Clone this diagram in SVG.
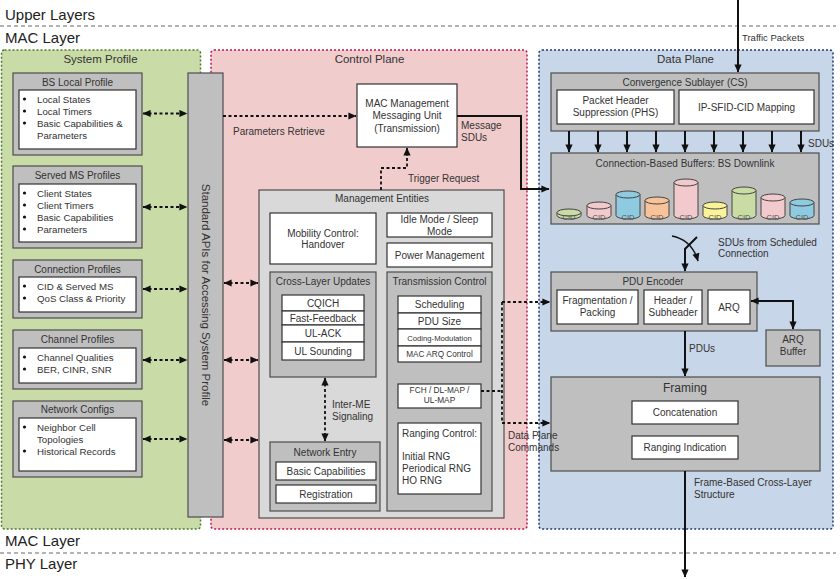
<svg xmlns="http://www.w3.org/2000/svg" width="840" height="579" viewBox="0 0 840 579">
<defs>
<marker id="ah" viewBox="0 0 10 10" refX="9.5" refY="5" markerWidth="9" markerHeight="8" markerUnits="userSpaceOnUse" orient="auto-start-reverse">
<path d="M0,0.5 L10,5 L0,9.5 z" fill="#111"/>
</marker>
<style>
text{font-family:"Liberation Sans",Arial,sans-serif;fill:#333}
.lay{font-size:15px;fill:#222}
.ct{font-size:11.5px;text-anchor:middle}
.bt{font-size:10px;text-anchor:middle}
.b{font-size:9.7px}
.c{font-size:10px;text-anchor:middle}
.s{font-size:10px}
.grey{fill:#bfbfbf;stroke:#4d4d4d;stroke-width:1.2}
.lgrey{fill:#d9d9d9;stroke:#4d4d4d;stroke-width:1.2}
.wh{fill:#fff;stroke:#333;stroke-width:1.2}
.dash{fill:none;stroke:#111;stroke-width:1.8;stroke-dasharray:3,2.5}
.solid{fill:none;stroke:#111;stroke-width:2}
.layer{stroke:#9a9a9a;stroke-width:1.5;stroke-dasharray:4,3}
.cyl{stroke:#444;stroke-width:1}
.cid{font-size:7.5px;text-anchor:middle;fill:#555}
</style>
</defs>

<g id="layers">
<line class="layer" x1="0" y1="26" x2="836" y2="26"/>
<line class="layer" x1="0" y1="553" x2="836" y2="553"/>
<text class="lay" x="5" y="19.5">Upper Layers</text>
<text class="lay" x="5" y="42.5">MAC Layer</text>
<text class="lay" x="5" y="546">MAC Layer</text>
<text class="lay" x="5" y="569">PHY Layer</text>
</g>

<g id="system-profile">
<rect x="1.5" y="50" width="199" height="479" rx="3" fill="#c9dca8" stroke="#4f7a28" stroke-width="1.5" stroke-dasharray="2,2"/>
<text class="ct" x="100.5" y="63">System Profile</text>
</g>
<g id="control-plane">
<rect x="211" y="50" width="316" height="479" rx="3" fill="#f1cccc" stroke="#c0174d" stroke-width="1.5" stroke-dasharray="2,2"/>
<text class="ct" x="369.5" y="63">Control Plane</text>
</g>
<g id="data-plane">
<rect x="539" y="50" width="294" height="479" rx="3" fill="#c7d6e8" stroke="#1f3a78" stroke-width="1.5" stroke-dasharray="2,2"/>
<text class="ct" x="685.5" y="63">Data Plane</text>
</g>

<g id="bs-local-profile">
<rect class="grey" x="13" y="73" width="129" height="82"/>
<text class="bt" x="77.5" y="85.5">BS Local Profile</text>
<rect class="wh" x="19" y="90" width="117" height="59"/>
<circle cx="24.5" cy="99" r="1.6" fill="#111"/><text class="b" x="37" y="102.5">Local States</text>
<circle cx="24.5" cy="111" r="1.6" fill="#111"/><text class="b" x="37" y="114.5">Local Timers</text>
<circle cx="24.5" cy="123" r="1.6" fill="#111"/><text class="b" x="37" y="126.5">Basic Capabilities &amp;</text>
<text class="b" x="37" y="138.5">Parameters</text>
</g>

<g id="served-ms-profiles">
<rect class="grey" x="13" y="166" width="129" height="82"/>
<text class="bt" x="77.5" y="178.5">Served MS Profiles</text>
<rect class="wh" x="19" y="184" width="117" height="58"/>
<circle cx="24.5" cy="193" r="1.6" fill="#111"/><text class="b" x="37" y="196.5">Client States</text>
<circle cx="24.5" cy="205" r="1.6" fill="#111"/><text class="b" x="37" y="208.5">Client Timers</text>
<circle cx="24.5" cy="217" r="1.6" fill="#111"/><text class="b" x="37" y="220.5">Basic Capabilities</text>
<circle cx="24.5" cy="229" r="1.6" fill="#111"/><text class="b" x="37" y="232.5">Parameters</text>
</g>

<g id="connection-profiles">
<rect class="grey" x="13" y="260" width="129" height="58"/>
<text class="bt" x="77.5" y="272.5">Connection Profiles</text>
<rect class="wh" x="19" y="277" width="117" height="35"/>
<circle cx="24.5" cy="286" r="1.6" fill="#111"/><text class="b" x="37" y="289.5">CID &amp; Served MS</text>
<circle cx="24.5" cy="298" r="1.6" fill="#111"/><text class="b" x="37" y="301.5">QoS Class &amp; Priority</text>
</g>

<g id="channel-profiles">
<rect class="grey" x="13" y="330" width="129" height="59"/>
<text class="bt" x="77.5" y="342.5">Channel Profiles</text>
<rect class="wh" x="19" y="348" width="117" height="35"/>
<circle cx="24.5" cy="357" r="1.6" fill="#111"/><text class="b" x="37" y="360.5">Channel Qualities</text>
<circle cx="24.5" cy="369" r="1.6" fill="#111"/><text class="b" x="37" y="372.5">BER, CINR, SNR</text>
</g>

<g id="network-configs">
<rect class="grey" x="13" y="401" width="129" height="76"/>
<text class="bt" x="77.5" y="412.5">Network Configs</text>
<rect class="wh" x="19" y="418" width="117" height="53"/>
<circle cx="24.5" cy="427" r="1.6" fill="#111"/><text class="b" x="37" y="430.5">Neighbor Cell</text>
<text class="b" x="37" y="442.5">Topologies</text>
<circle cx="24.5" cy="451" r="1.6" fill="#111"/><text class="b" x="37" y="454.5">Historical Records</text>
</g>

<g id="standard-apis">
<rect class="grey" x="188" y="73" width="35" height="444"/>
<text transform="translate(205.5,295) rotate(90)" x="0" y="4" style="font-size:11.5px;text-anchor:middle">Standard APIs for Accessing System Profile</text>
</g>

<g id="mac-mgmt-unit">
<rect class="wh" x="357" y="84" width="100" height="63"/>
<text class="c" x="407" y="106.5">MAC Management</text>
<text class="c" x="407" y="119">Messaging Unit</text>
<text class="c" x="407" y="131.5">(Transmission)</text>
</g>

<g id="management-entities">
<rect class="lgrey" x="259" y="190" width="245" height="328"/>
<text class="c" x="382" y="201.5">Management Entities</text>
</g>

<g id="mobility-control">
<rect class="wh" x="270" y="213" width="106" height="51"/>
<text class="c" x="323" y="236.5">Mobility Control:</text>
<text class="c" x="323" y="248">Handover</text>
</g>
<g id="idle-mode">
<rect class="wh" x="387" y="213" width="105" height="24"/>
<text class="c" x="439.5" y="222.5">Idle Mode / Sleep</text>
<text class="c" x="439.5" y="234.5">Mode</text>
</g>
<g id="power-management">
<rect class="wh" x="387" y="243" width="105" height="24"/>
<text class="c" x="439.5" y="258.5">Power Management</text>
</g>

<g id="cross-layer-updates">
<rect class="grey" x="270" y="272" width="106" height="105"/>
<text class="c" x="323" y="284.5">Cross-Layer Updates</text>
<rect class="wh" x="282" y="295" width="82" height="16"/>
<text class="c" x="323" y="306.5">CQICH</text>
<rect class="wh" x="282" y="311" width="82" height="14"/>
<text class="c" x="323" y="321.5">Fast-Feedback</text>
<rect class="wh" x="282" y="325" width="82" height="17"/>
<text class="c" x="323" y="337">UL-ACK</text>
<rect class="wh" x="282" y="342" width="82" height="18"/>
<text class="c" x="323" y="354.5">UL Sounding</text>
</g>

<g id="transmission-control">
<rect class="grey" x="387" y="272" width="105" height="239"/>
<text class="c" x="439.5" y="284.5">Transmission Control</text>
<rect class="wh" x="398" y="296" width="83" height="17"/>
<text class="c" x="439.5" y="308">Scheduling</text>
<rect class="wh" x="398" y="313" width="83" height="16"/>
<text class="c" x="439.5" y="324.5">PDU Size</text>
<rect class="wh" x="398" y="329" width="83" height="17"/>
<text x="439.5" y="340.5" style="font-size:7.7px;text-anchor:middle">Coding-Modulation</text>
<rect class="wh" x="398" y="346" width="83" height="16"/>
<text x="439.5" y="357" style="font-size:8.2px;text-anchor:middle">MAC ARQ Control</text>
</g>
<g id="fch-map">
<rect class="wh" x="398" y="384" width="83" height="24"/>
<text x="439.5" y="393" style="font-size:8.3px;text-anchor:middle">FCH / DL-MAP /</text>
<text x="439.5" y="403" style="font-size:8.3px;text-anchor:middle">UL-MAP</text>
</g>
<g id="ranging-control">
<rect class="wh" x="398" y="423" width="83" height="71"/>
<text class="s" x="402" y="437">Ranging Control:</text>
<text class="s" x="402" y="460">Initial RNG</text>
<text class="s" x="402" y="472">Periodical RNG</text>
<text class="s" x="402" y="483.5">HO RNG</text>
</g>

<g id="network-entry">
<rect class="grey" x="270" y="442" width="110" height="69"/>
<text class="c" x="325" y="455.5">Network Entry</text>
<rect class="wh" x="276" y="462" width="100" height="18"/>
<text class="c" x="326" y="474.5">Basic Capabilities</text>
<rect class="wh" x="276" y="485" width="100" height="18"/>
<text class="c" x="326" y="497.5">Registration</text>
</g>

<g id="convergence-sublayer">
<rect class="grey" x="551" y="73" width="268" height="58"/>
<text class="c" x="685" y="85.5">Convergence Sublayer (CS)</text>
<rect class="wh" x="557" y="90" width="117" height="34"/>
<text class="c" x="615.5" y="104">Packet Header</text>
<text class="c" x="615.5" y="116">Suppression (PHS)</text>
<rect class="wh" x="679" y="90" width="135" height="34"/>
<text class="c" x="746.5" y="110.5">IP-SFID-CID Mapping</text>
</g>

<g id="connection-buffers">
<rect class="grey" x="551" y="153" width="268" height="71"/>
<text class="c" x="685" y="166.5">Connection-Based Buffers: BS Downlink</text>
<g class="cyl">
<path d="M557,212.5 V215.5 A12,3.5 0 0 0 581,215.5 V212.5 Z" fill="#c8dca4"/><ellipse cx="569" cy="212.5" rx="12" ry="3.5" fill="#c8dca4"/>
<path d="M587,205.5 V215.5 A12,3.5 0 0 0 611,215.5 V205.5 Z" fill="#f2c9cc"/><ellipse cx="599" cy="205.5" rx="12" ry="3.5" fill="#f2c9cc"/>
<path d="M616,194.5 V215.5 A12,3.5 0 0 0 640,215.5 V194.5 Z" fill="#8fcbe0"/><ellipse cx="628" cy="194.5" rx="12" ry="3.5" fill="#8fcbe0"/>
<path d="M645,200.5 V215.5 A12,3.5 0 0 0 669,215.5 V200.5 Z" fill="#f8c39b"/><ellipse cx="657" cy="200.5" rx="12" ry="3.5" fill="#f8c39b"/>
<path d="M674,182.5 V215.5 A12,3.5 0 0 0 698,215.5 V182.5 Z" fill="#f2c9cc"/><ellipse cx="686" cy="182.5" rx="12" ry="3.5" fill="#f2c9cc"/>
<path d="M703,205.5 V215.5 A12,3.5 0 0 0 727,215.5 V205.5 Z" fill="#fbf39a"/><ellipse cx="715" cy="205.5" rx="12" ry="3.5" fill="#fbf39a"/>
<path d="M732,190.5 V215.5 A12,3.5 0 0 0 756,215.5 V190.5 Z" fill="#c8dca4"/><ellipse cx="744" cy="190.5" rx="12" ry="3.5" fill="#c8dca4"/>
<path d="M761,197.5 V215.5 A12,3.5 0 0 0 785,215.5 V197.5 Z" fill="#f2c9cc"/><ellipse cx="773" cy="197.5" rx="12" ry="3.5" fill="#f2c9cc"/>
<path d="M790,202.5 V215.5 A12,3.5 0 0 0 814,215.5 V202.5 Z" fill="#8fcbe0"/><ellipse cx="802" cy="202.5" rx="12" ry="3.5" fill="#8fcbe0"/>
</g>
<text class="cid" x="569" y="220">CID</text>
<text class="cid" x="599" y="220">CID</text>
<text class="cid" x="628" y="220">CID</text>
<text class="cid" x="657" y="220">CID</text>
<text class="cid" x="686" y="220">CID</text>
<text class="cid" x="715" y="220">CID</text>
<text class="cid" x="744" y="220">CID</text>
<text class="cid" x="773" y="220">CID</text>
<text class="cid" x="802" y="220">CID</text>
</g>

<g id="pdu-encoder">
<rect class="grey" x="551" y="272" width="206" height="59"/>
<text class="c" x="653" y="284.5">PDU Encoder</text>
<rect class="wh" x="557" y="290" width="81" height="34"/>
<text class="c" x="597.5" y="304">Fragmentation /</text>
<text class="c" x="597.5" y="316">Packing</text>
<rect class="wh" x="644" y="290" width="58" height="34"/>
<text class="c" x="673" y="304">Header /</text>
<text class="c" x="673" y="316">Subheader</text>
<rect class="wh" x="708" y="290" width="42" height="34"/>
<text class="c" x="729" y="310.5">ARQ</text>
</g>

<g id="arq-buffer">
<rect class="grey" x="766" y="330" width="54" height="36"/>
<text class="c" x="793" y="343">ARQ</text>
<text class="c" x="793" y="355">Buffer</text>
</g>

<g id="framing">
<rect class="grey" x="551" y="377" width="269" height="94"/>
<text x="685" y="391.5" style="font-size:12px;text-anchor:middle">Framing</text>
<rect class="wh" x="632" y="401" width="106" height="23"/>
<text class="c" x="685" y="416">Concatenation</text>
<rect class="wh" x="632" y="436" width="106" height="23"/>
<text class="c" x="685" y="451">Ranging Indication</text>
</g>

<g id="connectors">
<path class="dash" d="M143,113.5 H187" marker-start="url(#ah)" marker-end="url(#ah)"/>
<path class="dash" d="M143,207 H187" marker-start="url(#ah)" marker-end="url(#ah)"/>
<path class="dash" d="M143,289 H187" marker-start="url(#ah)" marker-end="url(#ah)"/>
<path class="dash" d="M143,360 H187" marker-start="url(#ah)" marker-end="url(#ah)"/>
<path class="dash" d="M143,439 H187" marker-start="url(#ah)" marker-end="url(#ah)"/>
<path class="dash" d="M224,283 H258" marker-start="url(#ah)" marker-end="url(#ah)"/>
<path class="dash" d="M224,360 H258" marker-start="url(#ah)" marker-end="url(#ah)"/>
<path class="dash" d="M224,440 H258" marker-start="url(#ah)" marker-end="url(#ah)"/>
<path class="dash" d="M223,116 H356" marker-end="url(#ah)"/>
<text class="s" x="233" y="134.5">Parameters Retrieve</text>
<path class="dash" d="M381,190 V168 H407 V148" marker-end="url(#ah)"/>
<text class="s" x="408" y="181.5">Trigger Request</text>
<path class="solid" d="M457,116 H521 V189 H549" marker-end="url(#ah)"/>
<text class="s" x="461" y="128.5">Message</text>
<text class="s" x="461" y="140.5">SDUs</text>
<path class="dash" d="M325,378 V441" marker-start="url(#ah)" marker-end="url(#ah)"/>
<text class="s" x="332" y="407.5">Inter-ME</text>
<text class="s" x="332" y="419.5">Signaling</text>
<path class="dash" d="M481,391 H502"/>
<path class="dash" d="M502,302 V423"/>
<path class="dash" d="M502,302 H550" marker-end="url(#ah)"/>
<path class="dash" d="M502,423 H550" marker-end="url(#ah)"/>
<text class="s" x="508" y="439">Data Plane</text>
<text class="s" x="508" y="450.5">Commands</text>
<path class="solid" d="M738,0 V72" marker-end="url(#ah)"/>
<text class="s" x="742" y="40.5" style="font-size:9.5px">Traffic Packets</text>
<g>
<path class="solid" d="M569,131 V152" marker-end="url(#ah)"/>
<path class="solid" d="M598,131 V152" marker-end="url(#ah)"/>
<path class="solid" d="M627,131 V152" marker-end="url(#ah)"/>
<path class="solid" d="M656,131 V152" marker-end="url(#ah)"/>
<path class="solid" d="M685,131 V152" marker-end="url(#ah)"/>
<path class="solid" d="M714,131 V152" marker-end="url(#ah)"/>
<path class="solid" d="M743,131 V152" marker-end="url(#ah)"/>
<path class="solid" d="M772,131 V152" marker-end="url(#ah)"/>
<path class="solid" d="M801,131 V152" marker-end="url(#ah)"/>
</g>
<text class="s" x="808" y="147">SDUs</text>
<path fill="none" stroke="#111" stroke-width="1.3" d="M672,236 Q692,240 698,261" marker-end="url(#ah)"/>
<path class="solid" d="M697,237 L685,249 V271" marker-end="url(#ah)"/>
<text class="s" x="718" y="245.5">SDUs from Scheduled</text>
<text class="s" x="718" y="257">Connection</text>
<path class="solid" d="M751,301 H793 V329" marker-start="url(#ah)" marker-end="url(#ah)"/>
<path class="solid" d="M685,331 V376" marker-end="url(#ah)"/>
<text class="s" x="689" y="351.5">PDUs</text>
<path class="solid" d="M685,471 V577" marker-end="url(#ah)"/>
<text class="s" x="694" y="485.5">Frame-Based Cross-Layer</text>
<text class="s" x="694" y="497.5">Structure</text>
</g>
</svg>
